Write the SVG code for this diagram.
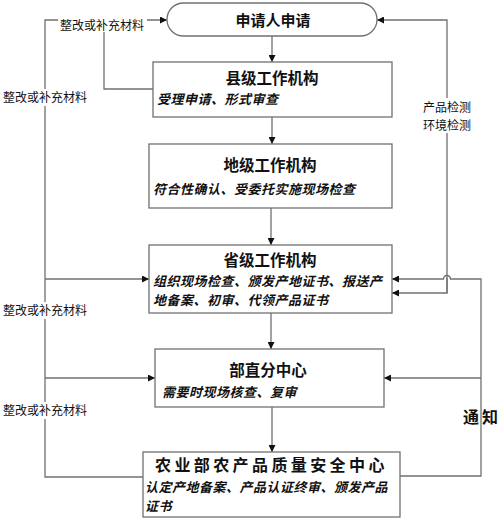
<svg xmlns="http://www.w3.org/2000/svg" width="500" height="519" viewBox="0 0 500 519">
<style>
.box{fill:#fff;stroke:#707070;stroke-width:1.3}
.ln{fill:none;stroke:#707070;stroke-width:1.3}
.t{font-family:"Noto Sans CJK SC","Noto Sans",sans-serif;font-weight:700;font-size:15.5px;fill:#111;text-anchor:middle}
.s{font-family:"Noto Sans CJK SC","Noto Sans",sans-serif;font-weight:700;font-style:italic;font-size:13px;letter-spacing:0.5px;fill:#111}
.l{font-family:"Noto Sans CJK SC","Noto Sans",sans-serif;font-size:12px;fill:#111}
.bg{fill:#fff}
</style>
<defs>
<marker id="a" viewBox="0 0 10 10" refX="10" refY="5" markerWidth="7" markerHeight="7" markerUnits="userSpaceOnUse" orient="auto">
<path d="M0,0 L10,5 L0,10 z" fill="#111"/>
</marker>
</defs>
<rect width="500" height="519" fill="#fff"/>
<g id="connectors">
<path class="ln" d="M272,36 V62" marker-end="url(#a)"/>
<path class="ln" d="M272,117 V144" marker-end="url(#a)"/>
<path class="ln" d="M271,208 V245" marker-end="url(#a)"/>
<path class="ln" d="M271,313 V349" marker-end="url(#a)"/>
<path class="ln" d="M272,407 V452" marker-end="url(#a)"/>
<path class="ln" d="M153,89 H104 V20"/>
<path class="ln" d="M143,477 H45 V20 H167" marker-end="url(#a)"/>
<path class="ln" d="M45,279 H149" marker-end="url(#a)"/>
<path class="ln" d="M45,378 H155" marker-end="url(#a)"/>
<path class="ln" d="M447,293 V20 H377" marker-end="url(#a)"/>
<path class="ln" d="M447,278 V293 H392" marker-end="url(#a)"/>
<path class="ln" d="M400,476 H481 V279 H450.5 A3.5,3.5 0 0 0 443.5,279 H392" marker-end="url(#a)"/>
<path class="ln" d="M481,378 H384" marker-end="url(#a)"/>
<rect class="bg" x="58" y="14" width="89" height="18"/>
<text class="l" x="60" y="30">整改或补充材料</text>
<rect class="bg" x="2" y="89" width="86" height="17"/>
<text class="l" x="3" y="102">整改或补充材料</text>
<rect class="bg" x="2" y="302" width="86" height="17"/>
<text class="l" x="3" y="315">整改或补充材料</text>
<rect class="bg" x="2" y="402" width="86" height="17"/>
<text class="l" x="3" y="415">整改或补充材料</text>
<rect class="bg" x="421" y="98" width="53" height="35"/>
<text class="l" x="423" y="112">产品检测</text>
<text class="l" x="423" y="130">环境检测</text>
<text class="t" x="463" y="423" style="text-anchor:start;font-size:16px;letter-spacing:3px">通知</text>
</g>
<g id="applicant">
<rect class="box" x="167" y="3" width="210" height="33" rx="16.5" ry="16.5"/>
<text class="t" x="273" y="26" style="font-size:15px">申请人申请</text>
</g>
<g id="county">
<rect class="box" x="153" y="62" width="239" height="55"/>
<text class="t" x="272" y="84">县级工作机构</text>
<text class="s" x="157" y="104">受理申请、形式审查</text>
</g>
<g id="prefecture">
<rect class="box" x="149" y="144" width="243" height="64"/>
<text class="t" x="270" y="171">地级工作机构</text>
<text class="s" x="153" y="194">符合性确认、受委托实施现场检查</text>
</g>
<g id="province">
<rect class="box" x="149" y="245" width="243" height="68"/>
<text class="t" x="270" y="266">省级工作机构</text>
<text class="s" x="153" y="286">组织现场检查、颁发产地证书、报送产</text>
<text class="s" x="153" y="305">地备案、初审、代领产品证书</text>
</g>
<g id="ministry-branch">
<rect class="box" x="155" y="349" width="229" height="58"/>
<text class="t" x="268" y="376">部直分中心</text>
<text class="s" x="162" y="397">需要时现场核查、复审</text>
</g>
<g id="center">
<rect class="box" x="143" y="452" width="257" height="65"/>
<text class="t" x="155" y="471" style="text-anchor:start;font-size:16px;letter-spacing:3.4px">农业部农产品质量安全中心</text>
<text class="s" x="145" y="492">认定产地备案、产品认证终审、颁发产品</text>
<text class="s" x="145" y="511">证书</text>
</g>
</svg>
